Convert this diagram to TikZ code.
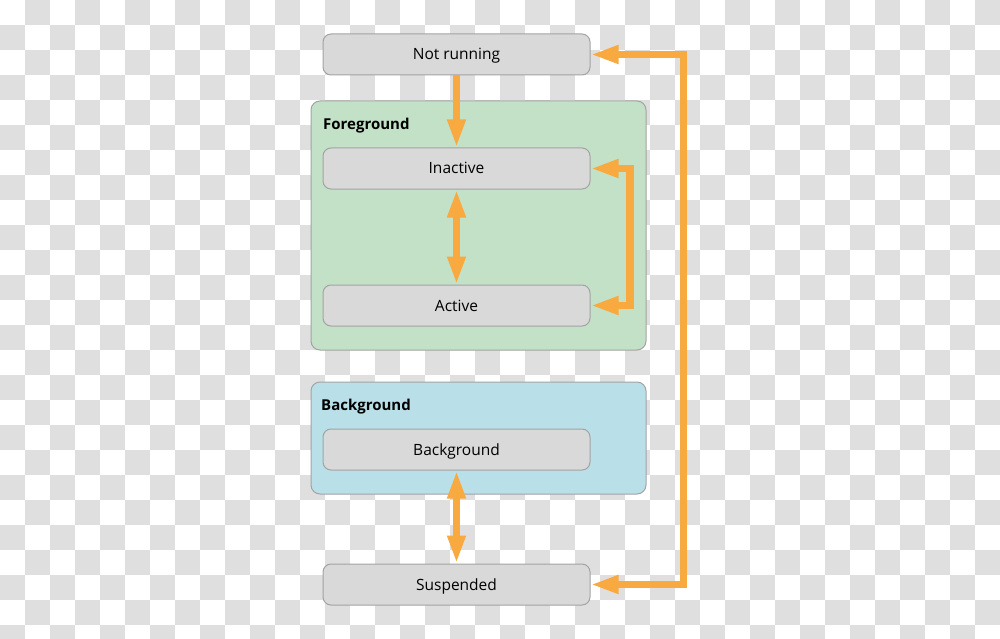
\documentclass[tikz,border=0pt]{standalone}
\usepackage{fontspec}
\setmainfont{Open Sans}
\usetikzlibrary{arrows.meta}
\definecolor{chk}{HTML}{DFDFDF}
\definecolor{boxfill}{HTML}{D9D9D9}
\definecolor{boxline}{HTML}{A3A3A3}
\definecolor{fgfill}{HTML}{C3E1C7}
\definecolor{bgfill}{HTML}{B9DFE9}
\definecolor{arr}{HTML}{F8AA40}
\tikzset{
  state/.style={draw=boxline, line width=1pt, fill=boxfill, rounded corners=8pt,
    minimum width=267pt, minimum height=41pt, inner sep=0pt,
    text height=11pt, text depth=0pt, font=\fontsize{15.5pt}{18pt}\selectfont},
  group/.style={draw=boxline, line width=1pt, rounded corners=9pt,
    minimum width=335pt, inner sep=0pt},
  grouplabel/.style={anchor=base west, inner sep=0pt, font=\fontsize{15pt}{18pt}\selectfont\bfseries},
  flow/.style={draw=arr, line width=7.5pt, miter limit=10,
    -{Triangle[length=28pt,width=17pt]}},
  flow2/.style={draw=arr, line width=7.5pt, miter limit=10,
    {Triangle[length=28pt,width=17pt]}-{Triangle[length=28pt,width=17pt]}}
}
\begin{document}
\begin{tikzpicture}[x=1pt,y=-1pt]
\useasboundingbox (0,0) rectangle (1000,639);
\begin{scope}
\clip (0,0) rectangle (1000,639);
\foreach \j in {0,...,25}{
  \foreach \i in {0,...,39}{
    \pgfmathtruncatemacro\s{mod(\i+\j,2)}
    \ifnum\s=1 \fill[chk] (25*\i,25*\j) rectangle ++(25,25); \fi
  }
}
\end{scope}
% groups
\node[group, fill=fgfill, minimum height=249pt] (fg) at (478.5,225.5) {};
\node[group, fill=bgfill, minimum height=112pt] (bgg) at (478.5,438) {};
\node[grouplabel] (fgl) at (323,129.5) {Foreground};
\node[grouplabel] (bgl) at (321,410.5) {Background};
% states
\node[state] (nr) at (456.5,54.5) {Not running};
\node[state] (in) at (456.5,168.5) {Inactive};
\node[state] (ac) at (456.5,305.5) {Active};
\node[state] (bg) at (456.5,449.5) {Background};
\node[state] (su) at (456.5,584.5) {Suspended};
\coordinate (rx) at (683.5,0);
\coordinate (ix) at (630,0);
% connectors
\draw[flow] (nr.south) -- (in.north);
\draw[flow2] (in.south) -- (ac.north);
\draw[flow2] (bg.south) -- (su.north);
\draw[flow2] (in.east) -- (in.east -| ix) -- (ac.east -| ix) -- (ac.east);
\draw[flow2] (su.east) -- (su.east -| rx) -- (nr.east -| rx) -- (nr.east);
\end{tikzpicture}
\end{document}
